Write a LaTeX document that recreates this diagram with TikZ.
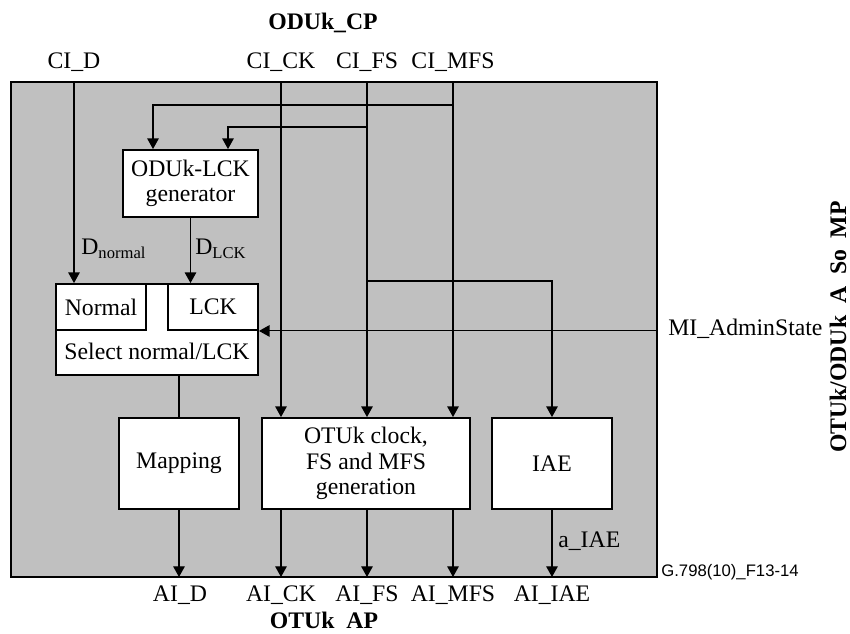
\documentclass[tikz,border=0pt]{standalone}
\usepackage{fontspec}
\setmainfont{Liberation Serif}
\newfontfamily\figidfont{Liberation Sans}
\usetikzlibrary{arrows.meta, positioning, calc}

\begin{document}
\begin{tikzpicture}[
    x=0.02cm, y=-0.02cm,
    font=\fontsize{13.5}{14.5}\selectfont,
    fnbox/.style={draw, line width=1.1pt, fill=white, inner sep=0pt, align=center},
    sigline/.style={line width=0.6pt},
    sigarrow/.style={-{Triangle[length=6pt,width=6.5pt]}, line width=0.6pt},
    aplabel/.style={font=\bfseries\fontsize{13.5}{16}\selectfont},
    siglabel/.style={inner sep=0pt},
]

\definecolor{fnGrey}{RGB}{192,192,192}
\useasboundingbox (0,0) rectangle (850,634);

% Atomic function body
\draw[fill=fnGrey, line width=1pt] (11,82) rectangle (657,577);
\coordinate (ftop) at (0,82);
\coordinate (fbot) at (0,577);
\coordinate (fright) at (657,0);
% rows where the branches leave the CI lines
\coordinate (rowM) at (0,105);
\coordinate (rowF) at (0,127);
\coordinate (rowI) at (0,281);

% Connection points
\node[aplabel] (cp) at (323,23) {ODUk\_CP};
\node[aplabel] (ap) at (324,620) {OTUk\enspace AP};
\node[aplabel, rotate=90, inner sep=0pt] (mp) at (838,327) {OTUk/ODUk\enspace A\enspace So\enspace MP};

% Input signals (CP side)
\node[anchor=base] (cid) at (74,69) {CI\_D};
\node[anchor=base] (cick) at (281,69) {CI\_CK};
\node[anchor=base] (cifs) at (367,69) {CI\_FS};
\node[anchor=base] (cimfs) at (453,69) {CI\_MFS};

% Output signals (AP side)
\node[anchor=base] (aid) at (180,602) {AI\_D};
\node[anchor=base] (aick) at (281,602) {AI\_CK};
\node[anchor=base] (aifs) at (367,602) {AI\_FS};
\node[anchor=base] (aimfs) at (453,602) {AI\_MFS};
\node[anchor=base] (aiiae) at (552,602) {AI\_IAE};

% ===== Function blocks =====
\node[fnbox, minimum width=2.7cm, minimum height=1.34cm] (gen) at (190.5,183.5) {ODUk-LCK\\generator};
\node[fnbox, minimum width=4.04cm, minimum height=1.82cm] (sel) at (157,329.5) {};
\node[fnbox, minimum width=1.8cm, minimum height=0.92cm] (nrm) at (101,307) {Normal};
\node[fnbox, minimum width=1.8cm, minimum height=0.92cm] (lck) at (213,307) {LCK};
\node[anchor=base] (seltxt) at (157,360) {Select normal/LCK};
\node[fnbox, minimum width=2.4cm, minimum height=1.82cm] (map) at (179,463.5) {Mapping};
\node[fnbox, minimum width=4.16cm, minimum height=1.82cm] (otu) at (366,463.5) {OTUk clock,\\FS and MFS\\generation};
\node[fnbox, minimum width=2.4cm, minimum height=1.82cm] (iae) at (552,463.5) {IAE};

% LCK generator is fed from CI_MFS and CI_FS
\coordinate (genA) at ($(gen.north)+(-37.5,0)$);
\coordinate (genB) at ($(gen.north)+(37.5,0)$);
\draw[sigarrow] (cimfs |- rowM) -| (genA);
\draw[sigarrow] (cifs |- rowF) -| (genB);
\draw[sigarrow] (cifs |- rowI) -| (iae.north);

% Data path
\draw[sigarrow] (cid |- ftop) -- (cid |- nrm.north);
\draw[sigarrow] (gen.south) -- (gen.south |- lck.north);
\draw[sigline] (map.north |- sel.south) -- (map.north);
\draw[sigarrow] (map.south) -- (map.south |- fbot);
\node[siglabel, anchor=base west] (dnorm) at (81,255) {D\textsubscript{normal}};
\node[siglabel, anchor=base west] (dlck) at (195,255) {D\textsubscript{LCK}};

% Clock, FS and MFS through the generation block
\foreach \s in {cick, cifs, cimfs} {
    \draw[sigarrow] (\s |- ftop) -- (\s |- otu.north);
    \draw[sigarrow] (\s |- otu.south) -- (\s |- fbot);
}

% IAE output
\draw[sigarrow] (iae.south) -- (iae.south |- fbot);
\node[siglabel, anchor=base west] (aiae) at (558,548) {a\_IAE};

% Management input
\draw[sigarrow] (lck.south east -| fright) -- (lck.south east);
\node[siglabel, anchor=base west] (mi) at (668,336) {MI\_AdminState};

% Figure id
\node[siglabel, anchor=base west, font=\figidfont\fontsize{9.5}{11}\selectfont] (figid) at (661,577) {G.798(10)\_F13-14};

\end{tikzpicture}
\end{document}
